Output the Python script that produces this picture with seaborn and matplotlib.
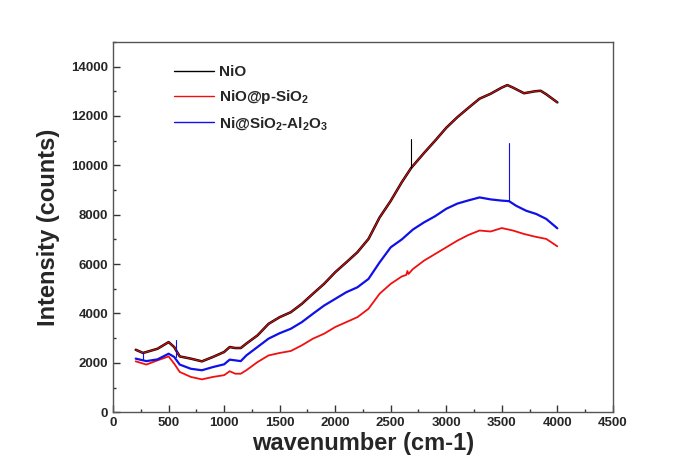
"""
Raman spectra of NiO samples: intensity vs wavenumber.
"""

import numpy as np
import pandas as pd
import matplotlib
matplotlib.use("Agg")
import matplotlib.pyplot as plt
from matplotlib.ticker import MultipleLocator
import seaborn as sns

# NiO (black, raw)
nio_wn = [204, 270, 400, 500, 550, 600, 700, 800, 900, 1000, 1050, 1100, 1150,
          1200, 1300, 1400, 1500, 1600, 1700, 1800, 1900, 2000, 2100, 2200,
          2300, 2400, 2500, 2600, 2685, 2800, 2900, 3000, 3100,
          3200, 3300, 3400, 3500, 3550, 3600, 3700, 3800, 3850, 3900, 4000]
nio_int = [2530, 2400, 2570, 2840, 2640, 2260, 2170, 2060, 2240, 2440, 2640,
           2600, 2600, 2780, 3110, 3580, 3850, 4050, 4390, 4800, 5200, 5670,
           6070, 6480, 7020, 7890, 8560, 9320, 9900, 10500, 11000,
           11520, 11950, 12330, 12700, 12900, 13150, 13250, 13150, 12920,
           13000, 13020, 12880, 12550]

# NiO@p-SiO2 (red)
sio_wn = [204, 300, 400, 500, 550, 600, 700, 800, 900, 1000, 1050, 1100, 1150,
          1200, 1300, 1400, 1500, 1600, 1700, 1800, 1900, 2000, 2100, 2200,
          2300, 2400, 2500, 2600, 2640, 2650, 2660, 2700, 2800, 2900, 3000,
          3100, 3200, 3300, 3400, 3500, 3600, 3700, 3800, 3900, 4000]
sio_int = [2060, 1930, 2100, 2260, 1970, 1630, 1430, 1330, 1430, 1500, 1660,
           1560, 1560, 1700, 2030, 2300, 2400, 2480, 2710, 2980, 3180, 3450,
           3650, 3850, 4190, 4800, 5200, 5500, 5560, 5720, 5600, 5800, 6140,
           6410, 6680, 6950, 7180, 7360, 7320, 7460, 7360, 7220, 7110, 7020,
           6720]

# Ni@SiO2-Al2O3 (blue)
al_wn = [204, 300, 400, 500, 550, 600, 700, 800,
         900, 1000, 1050, 1100, 1150, 1200, 1300, 1400, 1500, 1600, 1700, 1800,
         1900, 2000, 2100, 2200, 2300, 2400, 2500, 2600, 2700, 2800, 2900, 3000,
         3100, 3200, 3300, 3400, 3500, 3565, 3630, 3720, 3810,
         3900, 4000]
al_int = [2170, 2070, 2140, 2370, 2240,
          1930, 1760, 1700, 1830, 1940, 2130, 2100, 2070, 2300, 2640, 2980,
          3200, 3380, 3650, 3990, 4320, 4590, 4860, 5060, 5400, 6070, 6680,
          7000, 7400, 7690, 7940, 8240, 8450, 8580, 8700, 8620, 8570, 8550,
          8360, 8160, 8030, 7830, 7450]

# sharp spikes (base and tip)
nio_spike_wn = [2685, 2685]
nio_spike_int = [9900, 11070]
al_spike_wn = [268, 268, 570, 570, 3565, 3565]
al_spike_int = [2100, 2440, 2230, 2910, 8550, 10920]
al_spike_id = [0, 0, 1, 1, 2, 2]

xticks = np.arange(0, 4501, 500)
yticks = np.arange(0, 14001, 2000)

sns.set_style("ticks")
plt.rcParams["font.family"] = ["Liberation Sans", "DejaVu Sans"]
plt.rcParams["font.weight"] = "bold"
plt.rcParams["mathtext.fontset"] = "custom"
plt.rcParams["mathtext.rm"] = "Liberation Sans:bold"
plt.rcParams["mathtext.it"] = "Liberation Sans:bold"
plt.rcParams["mathtext.bf"] = "Liberation Sans:bold"

fig = plt.figure(figsize=(6.98, 4.76), dpi=100)
ax = fig.add_axes([0.162, 0.134, 0.716, 0.778])

nio = pd.DataFrame({"wn": nio_wn, "intensity": nio_int})
sio = pd.DataFrame({"wn": sio_wn, "intensity": sio_int})
al = pd.DataFrame({"wn": al_wn, "intensity": al_int})
nio_sp = pd.DataFrame({"wn": nio_spike_wn, "intensity": nio_spike_int})
al_sp = pd.DataFrame({"wn": al_spike_wn, "intensity": al_spike_int,
                      "peak": al_spike_id})

sns.lineplot(data=nio, x="wn", y="intensity", ax=ax, color="black",
             linewidth=1.8, estimator=None, sort=False, label="NiO")
sns.lineplot(data=sio, x="wn", y="intensity", ax=ax, color="#f01010",
             linewidth=1.3, estimator=None, sort=False,
             label="NiO@p-SiO$_2$")
sns.lineplot(data=al, x="wn", y="intensity", ax=ax, color="#1010e8",
             linewidth=1.6, estimator=None, sort=False,
             label="Ni@SiO$_2$-Al$_2$O$_3$")
# red smoothed trace drawn over the raw NiO spectrum
sns.lineplot(data=nio, x="wn", y="intensity", ax=ax, color="#d01010",
             linewidth=0.9, estimator=None, sort=False, legend=False)
# thin spikes
sns.lineplot(data=nio_sp, x="wn", y="intensity", ax=ax, color="black",
             linewidth=0.8, estimator=None, sort=False, legend=False)
sns.lineplot(data=al_sp, x="wn", y="intensity", units="peak", ax=ax,
             color="#1010e8", linewidth=0.8, estimator=None, sort=False,
             legend=False)

ax.set_xlim(0, 4500)
ax.set_ylim(0, 15000)
ax.set_xticks(xticks)
ax.set_yticks(yticks)
ax.xaxis.set_minor_locator(MultipleLocator(250))
ax.yaxis.set_minor_locator(MultipleLocator(1000))
ax.tick_params(which="major", direction="in", length=5, width=1,
               labelsize=9.5, color="#333333")
ax.tick_params(which="minor", direction="in", length=2.5, width=1,
               color="#333333")
for lbl in ax.get_xticklabels() + ax.get_yticklabels():
    lbl.set_fontweight("bold")
for sp in ax.spines.values():
    sp.set_color("#555555")
    sp.set_linewidth(1)

ax.set_xlabel("wavenumber (cm-1)", fontsize=17, fontweight="bold", labelpad=2)
ax.set_ylabel("Intensity (counts)", fontsize=17, fontweight="bold", labelpad=8)

handles, labels = ax.get_legend_handles_labels()
leg = ax.legend(handles[:3], labels[:3], loc="upper left",
                bbox_to_anchor=(0.095, 0.975), frameon=False, fontsize=11,
                handlelength=2.6, handletextpad=0.3, labelspacing=0.6)
for h in leg.get_lines():
    h.set_linewidth(1.0)
for t in leg.get_texts():
    t.set_fontweight("bold")

fig.savefig("out.png", dpi=100)
